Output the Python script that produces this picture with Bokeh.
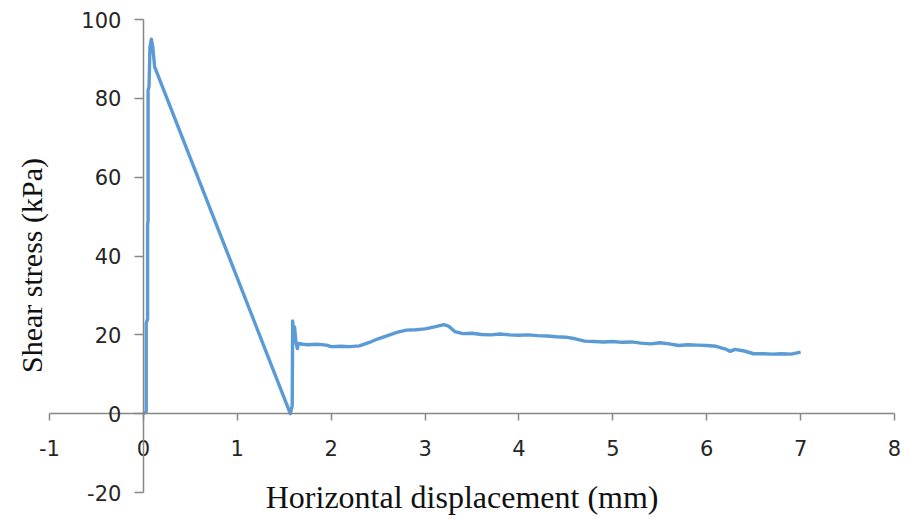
from math import pi

from bokeh.embed import file_html
from bokeh.models import (CustomJSTickFormatter, Label, LinearAxis, Range1d,
                          SingleIntervalTicker)
from bokeh.plotting import figure
from bokeh.resources import INLINE

# Direct shear test record: horizontal displacement (mm) vs shear stress (kPa)
displacement_mm = [
    0.00, 0.03, 0.03, 0.045, 0.045, 0.05, 0.05, 0.06, 0.07, 0.085, 0.10, 0.12,
    1.565, 1.585, 1.59, 1.60, 1.61, 1.625, 1.64, 1.65, 1.70,
    1.75, 1.85, 1.95, 2.00, 2.10, 2.20, 2.30, 2.40, 2.50, 2.60, 2.70, 2.80,
    2.90, 3.00, 3.10, 3.20, 3.25, 3.32, 3.40, 3.50, 3.60, 3.70, 3.80, 3.90,
    4.00, 4.10, 4.20, 4.30, 4.40, 4.50, 4.60, 4.70, 4.80, 4.90, 5.00, 5.10,
    5.20, 5.30, 5.40, 5.50, 5.60, 5.70, 5.80, 5.90, 6.00, 6.10, 6.20, 6.25,
    6.30, 6.40, 6.50, 6.60, 6.70, 6.80, 6.90, 7.00,
]
shear_stress_kpa = [
    0.0, 0.5, 23.0, 24.0, 48.0, 49.0, 82.0, 83.0, 93.0, 95.0, 93.0, 88.0,
    0.0, 2.0, 23.5, 20.0, 22.0, 18.0, 16.5, 17.8, 17.6,
    17.5, 17.6, 17.4, 17.0, 17.1, 17.0, 17.2, 18.0, 19.0, 19.8, 20.6, 21.2,
    21.3, 21.5, 22.0, 22.6, 22.2, 20.8, 20.3, 20.4, 20.1, 20.0, 20.2, 20.0,
    19.9, 20.0, 19.8, 19.7, 19.5, 19.4, 19.0, 18.4, 18.3, 18.2, 18.3, 18.1,
    18.2, 17.9, 17.7, 18.0, 17.7, 17.3, 17.5, 17.4, 17.3, 17.1, 16.4, 15.8,
    16.3, 15.9, 15.2, 15.2, 15.1, 15.2, 15.1, 15.6,
]

# Axis extents and the padding of the drawing area around them
x_bounds = (-1, 8)
y_bounds = (-20, 100)

x_title = "Horizontal  displacement  (mm)"
y_title = "Shear  stress  (kPa)"

TICK_FONT = "DejaVu Sans"
TITLE_FONT = "Liberation Serif"
AXIS_GREY = "#878787"
SERIES_BLUE = "#5b9bd5"

W, H = 911, 520
PAD_L, PAD_R, PAD_T, PAD_B = 49, 17, 19, 28
sx = (W - PAD_L - PAD_R) / (x_bounds[1] - x_bounds[0])
sy = (H - PAD_T - PAD_B) / (y_bounds[1] - y_bounds[0])

p = figure(
    width=W,
    height=H,
    x_range=Range1d(x_bounds[0] - PAD_L / sx, x_bounds[1] + PAD_R / sx),
    y_range=Range1d(y_bounds[0] - PAD_B / sy, y_bounds[1] + PAD_T / sy),
    x_axis_location=None,
    y_axis_location=None,
    output_backend="svg",
    toolbar_location=None,
    min_border=0,
    background_fill_color="white",
    border_fill_color="white",
)
p.outline_line_color = None
p.xgrid.visible = False
p.ygrid.visible = False

# Plain hyphen-minus for negative tick values
plain_numbers = CustomJSTickFormatter(code="return String(tick);")

# Axes cross at the origin, as in a spreadsheet scatter chart
xaxis = LinearAxis(fixed_location=0, bounds=x_bounds,
                   ticker=SingleIntervalTicker(interval=1),
                   formatter=plain_numbers)
yaxis = LinearAxis(fixed_location=0, bounds=y_bounds,
                   ticker=SingleIntervalTicker(interval=20),
                   formatter=plain_numbers)
for ax in (xaxis, yaxis):
    ax.axis_line_color = AXIS_GREY
    ax.axis_line_width = 1.5
    ax.major_tick_line_color = AXIS_GREY
    ax.major_tick_line_width = 1.5
    ax.major_tick_in = 0
    ax.minor_tick_line_color = None
    ax.major_label_text_font = TICK_FONT
    ax.major_label_text_font_size = "21px"
    ax.major_label_text_color = "#262626"
xaxis.major_tick_out = 7
xaxis.major_label_standoff = 19
yaxis.major_tick_out = 9
yaxis.major_label_standoff = 13
p.add_layout(xaxis, "below")
p.add_layout(yaxis, "left")

p.line(displacement_mm, shear_stress_kpa, line_color=SERIES_BLUE,
       line_width=3.4, line_join="round")

p.add_layout(Label(
    x=3.48, y=-21.2, text=x_title, text_align="center", text_baseline="middle",
    text_font=TITLE_FONT, text_font_size="32px", text_color="#111111",
))
p.add_layout(Label(
    x=-1.19, y=39.5, text=y_title, angle=pi / 2, text_align="center",
    text_baseline="middle", text_font=TITLE_FONT, text_font_size="30px",
    text_color="#111111",
))

open("out.html", "w").write(file_html(p, INLINE))
